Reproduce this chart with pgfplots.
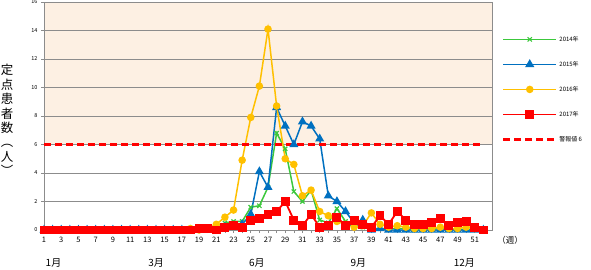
\documentclass[border=0pt]{standalone}
\usepackage{pgfplots}
\pgfplotsset{compat=1.18}
\usepackage{fontspec}
\setmainfont{Noto Sans CJK JP}
\definecolor{cgreen}{HTML}{3CC83C}
\definecolor{cblue}{HTML}{0070C0}
\definecolor{cyellow}{HTML}{FFC000}
\definecolor{cred}{HTML}{FF0000}
\definecolor{peach}{HTML}{FDF0E3}
\definecolor{gridc}{HTML}{8C8C8C}
\pgfplotstableread{
w a b c d
1 0 0 0 0
2 0 0 0 0
3 0 0 0 0
4 0.1 0 0 0
5 0 0 0 0
6 0.1 0 0 0
7 0 0 0 0
8 0 0 0 0
9 0.05 0 0 0
10 0.05 0 0 0
11 0.1 0 0 0
12 0.05 0 0 0
13 0 0 0 0
14 0 0 0 0
15 0.05 0 0 0
16 0 0 0 0
17 0.05 0 0 0
18 0 0 0.1 0
19 0 0 0 0.1
20 0 0 0.1 0.1
21 0.1 0 0.4 0
22 0.5 0.2 0.9 0.2
23 0.6 0.3 1.4 0.3
24 0.6 0.4 4.9 0.2
25 1.6 1.1 7.9 0.7
26 1.7 4.1 10.1 0.8
27 3.0 3.0 14.1 1.1
28 6.8 8.6 8.7 1.3
29 5.7 7.3 5.0 2.0
30 2.7 6.0 4.6 0.7
31 2.0 7.6 2.4 0.3
32 2.8 7.3 2.8 1.1
33 0.7 6.4 1.3 0.2
34 0.5 2.4 1.0 0.3
35 1.5 2.0 0.6 0.9
36 0.6 1.3 0.4 0.3
37 0.3 0.5 0.2 0.7
38 0.2 0.7 0.3 0.4
39 0.1 0 1.2 0.2
40 0.1 0.1 0.4 1.0
41 0.1 0 0.2 0.4
42 0.1 0 0.3 1.3
43 0.1 0 0.2 0.7
44 0 0 0.1 0.4
45 0.05 0 0.1 0.4
46 0.05 0 0.1 0.5
47 0.1 0 0.2 0.8
48 0.05 0 0.1 0.3
49 0.05 0 0.1 0.5
50 0.05 0 0.2 0.6
51 0.05 0 0.1 0.15
52 0 0 0 0
}\data
\begin{document}
\begin{tikzpicture}
\begin{axis}[
  set layers,
  scale only axis,
  width=448bp, height=228bp,
  xmin=1, xmax=53, ymin=0, ymax=16,
  xtick={1,3,...,51}, minor xtick={2,4,...,52},
  ytick={0,2,...,16},
  ymajorgrids, major grid style={gridc, line width=0.8pt},
  axis line style={gridc, line width=0.8pt},
  tick style={gridc, line width=0.6pt},
  major tick length=3bp, minor tick length=3bp,
  tick align=outside,
  xtick pos=bottom, ytick pos=left,
  /pgf/number format/assume math mode=true,
  x tick label style={font=\fontsize{7.5}{8}\selectfont, yshift=-1bp},
  y tick label style={font=\fontsize{5.5}{6}\selectfont},
  clip=false,
  legend style={at={(1.022,0.86)}, anchor=north west, draw=none, fill=none,
    font=\fontsize{6}{7}\selectfont, row sep=14.5bp, inner sep=0pt,
    /tikz/every even column/.append style={column sep=3bp}},
  legend cell align=left,
  legend image code/.code={\draw[mark repeat=2,mark phase=2,#1] plot coordinates {(0bp,0bp) (26.5bp,0bp) (53bp,0bp)};},
]
\addplot[draw=none, fill=peach, on layer=axis background, forget plot] coordinates {(1,6) (53,6) (53,16) (1,16)};
\addplot[cgreen, line width=1.5pt, mark=x, mark size=3pt, mark options={line width=1.2pt}] table[x=w,y=a]{\data};
\addlegendentry{2014年}
\addplot[cblue, line width=1.5pt, mark=triangle*, mark size=3.8pt] table[x=w,y=b]{\data};
\addlegendentry{2015年}
\addplot[cyellow, line width=1.5pt, mark=*, mark size=3pt] table[x=w,y=c]{\data};
\addlegendentry{2016年}
\addplot[cred, line width=1.8pt, mark=square*, mark size=3.6pt] table[x=w,y=d]{\data};
\addlegendentry{2017年}
\addplot[cred, line width=2.4pt, dash pattern=on 7bp off 4bp] coordinates {(1,6) (52,6)};
\addlegendentry{警報値 6}
\node[font=\fontsize{10}{11}\selectfont] at (axis cs:2.1,-2.3) {1月};
\node[font=\fontsize{10}{11}\selectfont] at (axis cs:14,-2.3) {3月};
\node[font=\fontsize{10}{11}\selectfont] at (axis cs:25.7,-2.3) {6月};
\node[font=\fontsize{10}{11}\selectfont] at (axis cs:37.5,-2.3) {9月};
\node[font=\fontsize{10}{11}\selectfont] at (axis cs:49.8,-2.3) {12月};
\node[font=\fontsize{8.5}{9}\selectfont] at (axis cs:55.1,-0.7) {（週）};
\end{axis}
\node[font=\fontsize{12.5}{14.5}\selectfont, align=center, inner sep=0pt] at (-37bp,110bp) {定\\点\\患\\者\\数\\︵\\人\\︶};
\pgfresetboundingbox
\useasboundingbox (-44bp,-40bp) rectangle (547bp,230bp);
\end{tikzpicture}
\end{document}
